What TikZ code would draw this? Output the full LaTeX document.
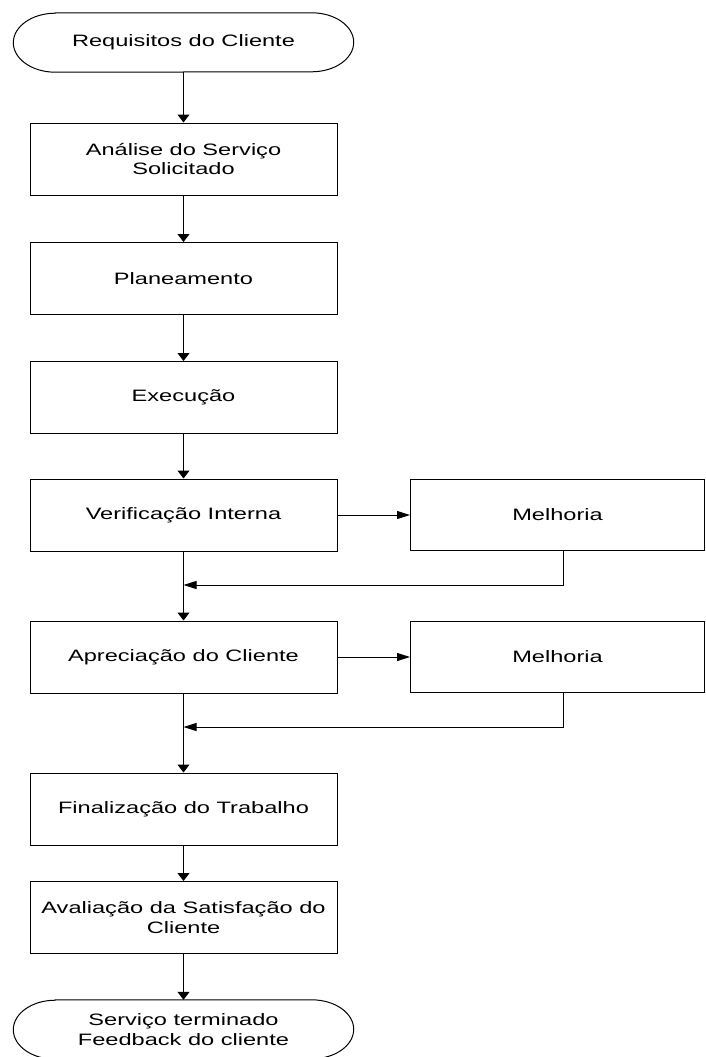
\documentclass[tikz,border=0pt]{standalone}
\usepackage{fontspec}
\setmainfont{Liberation Sans}[FakeStretch=1.43]
\usetikzlibrary{arrows.meta}
\begin{document}
\begin{tikzpicture}[x=1pt,y=-1pt,
  txt/.style={align=center,font=\fontsize{16.5}{19.5}\selectfont},
  box/.style={txt,draw,line width=1pt,minimum width=307pt,minimum height=72pt,inner sep=0pt},
  mbox/.style={txt,draw,line width=1pt,minimum width=294pt,minimum height=71pt,inner sep=0pt},
  term/.style={txt,minimum width=340pt,minimum height=59pt,inner sep=0pt},
  termline/.style={line width=1pt},
  varr/.style={-{Triangle[length=8pt,width=12pt]},line width=1pt},
  harr/.style={-{Triangle[length=13pt,width=8pt]},line width=1pt},
  fline/.style={line width=1pt}]
\path[use as bounding box] (0,0) rectangle (705,1057);

\node[term] (t1) at (183.5,42.5) {Requisitos do Cliente};
\draw[termline] ([xshift=42pt]t1.north west) -- ([xshift=-42pt]t1.north east)
  arc[start angle=90,end angle=-90,x radius=42pt,y radius=29.5pt]
  -- ([xshift=42pt]t1.south west)
  arc[start angle=270,end angle=90,x radius=42pt,y radius=29.5pt] -- cycle;

\node[box] (b1) at (183.5,159) {Análise do Serviço\\Solicitado};
\node[box] (b2) at (183.5,278.5) {Planeamento};
\node[box] (b3) at (183.5,397.5) {Execução};
\node[box] (b4) at (183.5,515) {Verificação Interna};
\node[mbox] (m1) at (557.5,515) {Melhoria};
\node[box] (b5) at (183.5,657) {Apreciação do Cliente};
\node[mbox] (m2) at (557.5,657) {Melhoria};
\node[box] (b6) at (183.5,809) {Finalização do Trabalho};
\node[box] (b7) at (183.5,917.5) {Avaliação da Satisfação do\\Cliente};

\node[term] (t2) at (183.5,1029.5) {Serviço terminado\\Feedback do cliente};
\draw[termline] ([xshift=42pt]t2.north west) -- ([xshift=-42pt]t2.north east)
  arc[start angle=90,end angle=-90,x radius=42pt,y radius=29.5pt]
  -- ([xshift=42pt]t2.south west)
  arc[start angle=270,end angle=90,x radius=42pt,y radius=29.5pt] -- cycle;

\coordinate (f1) at (563,585);
\coordinate (f2) at (563,727);

\draw[varr] (t1) -- (b1);
\draw[varr] (b1) -- (b2);
\draw[varr] (b2) -- (b3);
\draw[varr] (b3) -- (b4);
\draw[harr] (b4) -- (m1);
\draw[harr] (m1.south -| f1) -- (f1) -- (f1 -| b4);
\draw[varr] (b4) -- (b5);
\draw[harr] (b5) -- (m2);
\draw[harr] (m2.south -| f2) -- (f2) -- (f2 -| b5);
\draw[varr] (b5) -- (b6);
\draw[varr] (b6) -- (b7);
\draw[varr] (b7) -- (t2);
\end{tikzpicture}
\end{document}
